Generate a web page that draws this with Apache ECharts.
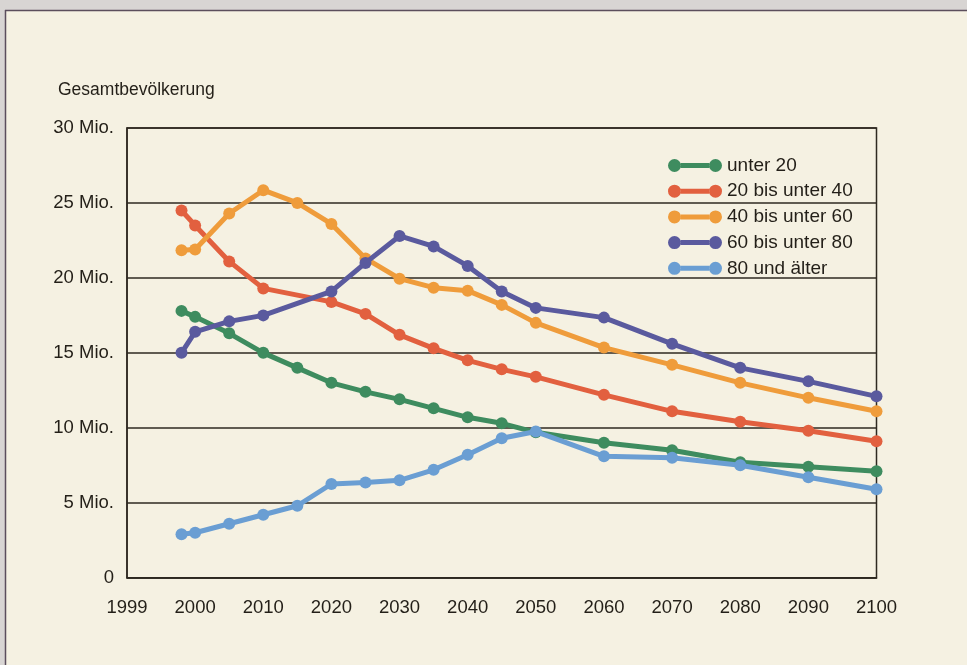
<!DOCTYPE html>
<html>
<head>
<meta charset="utf-8">
<script src="https://cdn.jsdelivr.net/npm/echarts@6/dist/echarts.min.js"></script>
<style>
  html, body { margin: 0; padding: 0; background: #f5f1e2; }
  #chart { width: 967px; height: 665px; }
</style>
</head>
<body>
<div id="chart"></div>
<script>
// Bevölkerung nach Altersgruppen (Mio.), Stützjahre
const years   = [1998, 2000, 2005, 2010, 2015, 2020, 2025, 2030, 2035, 2040, 2045, 2050, 2060, 2070, 2080, 2090, 2100];
const unter20 = [17.8, 17.4, 16.3, 15.0, 14.0, 13.0, 12.4, 11.9, 11.3, 10.7, 10.3, 9.7, 9.0, 8.5, 7.7, 7.4, 7.1];
const bis40   = [24.5, 23.5, 21.1, 19.3, null, 18.4, 17.6, 16.2, 15.3, 14.5, 13.9, 13.4, 12.2, 11.1, 10.4, 9.8, 9.1];
const bis60   = [21.85, 21.9, 24.3, 25.85, 25.0, 23.6, 21.3, 19.95, 19.35, 19.15, 18.2, 17.0, 15.35, 14.2, 13.0, 12.0, 11.1];
const bis80   = [15.0, 16.4, 17.1, 17.5, null, 19.1, 21.0, 22.8, 22.1, 20.8, 19.1, 18.0, 17.35, 15.6, 14.0, 13.1, 12.1];
const ab80    = [2.9, 3.0, 3.6, 4.2, 4.8, 6.25, 6.35, 6.5, 7.2, 8.2, 9.3, 9.75, 8.1, 8.0, 7.5, 6.7, 5.9];

const seriesNames = ['unter 20', '20 bis unter 40', '40 bis unter 60', '60 bis unter 80', '80 und älter'];
const seriesValues = [unter20, bis40, bis60, bis80, ab80];
const colors = ['#3e8c5f', '#e2603f', '#ef9c3b', '#5a5a9e', '#6a9ed3'];

const xTickLabels = ['1999', '2000', '2010', '2020', '2030', '2040', '2050', '2060', '2070', '2080', '2090', '2100'];
const yTickLabels = ['0', '5 Mio.', '10 Mio.', '15 Mio.', '20 Mio.', '25 Mio.', '30 Mio.'];

const FONT = '"Liberation Sans", Arial, sans-serif';
const INK = '#231f18';
const RULE = '#2e2920';

// legend icon: a thick bar with a solid dot at each end (pieces do not overlap)
const dumbbell = 'path://M0,6.5a6.5,6.5 0 1,0 13,0a6.5,6.5 0 1,0 -13,0ZM41,6.5a6.5,6.5 0 1,0 13,0a6.5,6.5 0 1,0 -13,0ZM12.8,4H41.2V9H12.8Z';

const chart = echarts.init(document.getElementById('chart'), null, { renderer: 'canvas' });

chart.setOption({
  backgroundColor: '#f5f1e2',
  animation: false,
  title: {
    text: 'Gesamtbevölkerung',
    left: 53, top: 76,
    textStyle: { fontFamily: FONT, fontSize: 17.5, fontWeight: 'normal', color: INK }
  },
  graphic: [
    { type: 'rect', shape: { x: 0, y: 0, width: 967, height: 10 }, style: { fill: '#d8d5d3' }, silent: true },
    { type: 'rect', shape: { x: 0, y: 0, width: 5, height: 665 }, style: { fill: '#d8d5d3' }, silent: true },
    { type: 'line', shape: { x1: 5, y1: 10.5, x2: 967, y2: 10.5 }, style: { stroke: '#5b4e5c', lineWidth: 1.5 }, silent: true },
    { type: 'line', shape: { x1: 5.5, y1: 10, x2: 5.5, y2: 665 }, style: { stroke: '#5b4e5c', lineWidth: 1.5 }, silent: true }
  ],
  legend: {
    orient: 'vertical',
    left: 663, top: 151,
    itemWidth: 54, itemHeight: 13, itemGap: 6.7,
    icon: dumbbell,
    textStyle: { fontFamily: FONT, fontSize: 19, color: INK },
    data: seriesNames
  },
  grid: {
    left: 127, right: 90.5, top: 128, bottom: 87.3,
    show: true, borderColor: RULE, borderWidth: 1.5, backgroundColor: 'transparent'
  },
  xAxis: {
    type: 'value',
    min: 1990, max: 2100, interval: 10,
    axisLine: { show: true, lineStyle: { color: RULE, width: 1.5 } },
    axisTick: { show: false },
    splitLine: { show: false },
    axisLabel: {
      margin: 21, fontFamily: FONT, fontSize: 18.5, color: INK,
      showMinLabel: true, showMaxLabel: true,
      formatter: v => xTickLabels[Math.round((v - 1990) / 10)]
    }
  },
  yAxis: {
    type: 'value',
    min: 0, max: 30, interval: 5,
    axisLine: { show: true, lineStyle: { color: RULE, width: 1.5 } },
    axisTick: { show: false },
    splitLine: { show: true, lineStyle: { color: RULE, width: 1.6 } },
    axisLabel: {
      margin: 13, fontFamily: FONT, fontSize: 18.5, color: INK,
      formatter: v => yTickLabels[Math.round(v / 5)]
    }
  },
  series: seriesNames.map((name, i) => ({
    name,
    type: 'line',
    data: years.map((y, j) => [y, seriesValues[i][j]]).filter(p => p[1] !== null),
    color: colors[i],
    lineStyle: { width: 5, color: colors[i] },
    symbol: 'circle',
    symbolSize: 12,
    itemStyle: { color: colors[i] },
    z: 2 + i
  }))
});
</script>
</body>
</html>
